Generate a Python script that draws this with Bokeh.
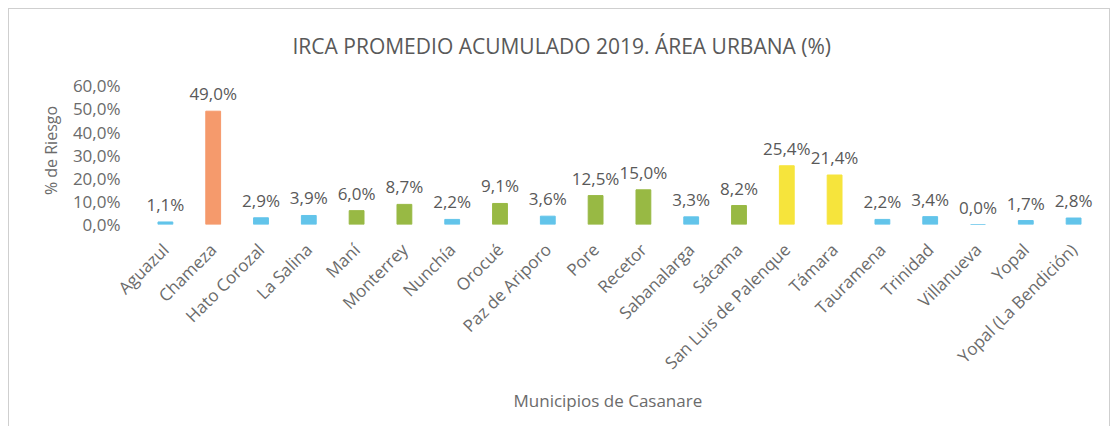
import math
from bokeh.plotting import figure
from bokeh.models import ColumnDataSource, FixedTicker, Title
from bokeh.core.properties import value
from bokeh.embed import file_html
from bokeh.resources import INLINE

municipios = ["Aguazul", "Chameza", "Hato Corozal", "La Salina", "Maní", "Monterrey",
              "Nunchía", "Orocué", "Paz de Ariporo", "Pore", "Recetor", "Sabanalarga",
              "Sácama", "San Luis de Palenque", "Támara", "Tauramena", "Trinidad",
              "Villanueva", "Yopal", "Yopal (La Bendición)"]
irca = [1.1, 49.0, 2.9, 3.9, 6.0, 8.7, 2.2, 9.1, 3.6, 12.5, 15.0, 3.3, 8.2,
        25.4, 21.4, 2.2, 3.4, 0.0, 1.7, 2.8]
riesgo = ["sin", "alto", "sin", "sin", "bajo", "bajo", "sin", "bajo", "sin", "bajo",
          "bajo", "sin", "bajo", "medio", "medio", "sin", "sin", "sin", "sin", "sin"]
y_ticks = [0, 10, 20, 30, 40, 50, 60]
y_tick_labels = ["0,0%", "10,0%", "20,0%", "30,0%", "40,0%", "50,0%", "60,0%"]

palette = {"sin": "#62c4ea", "bajo": "#98b944", "medio": "#f6e43c", "alto": "#f59a6c"}
FONT = "Open Sans"
GREY = "#6b6b6b"

labels = [f"{v:.1f}".replace(".", ",") + "%" for v in irca]
src = ColumnDataSource(dict(x=municipios, y=irca, lab=labels,
                            color=[palette[r] for r in riesgo]))

p = figure(x_range=municipios, y_range=(0, 64), width=1102, height=418,
           output_backend="svg", toolbar_location=None,
           min_border_left=132, min_border_right=14, min_border_top=67, min_border_bottom=203)
p.styles = {"border-left": "1px solid #cfcfcf", "border-top": "1px solid #cfcfcf",
            "border-right": "1px solid #cfcfcf", "margin-top": "8px", "margin-left": "8px"}
p.x_range.range_padding = 0

p.vbar(x="x", top="y", width=0.31, color="color", source=src)
p.text(x="x", y="y", text="lab", source=src, text_align="center", text_baseline="bottom",
       y_offset=-6, text_font=value(FONT), text_font_size="17px", text_color="#595959")

p.title.text = "IRCA PROMEDIO ACUMULADO 2019. ÁREA URBANA (%)"
p.title.align = "left"
p.title.offset = 151
p.title.text_font = FONT
p.title.text_font_size = "21px"
p.title.text_font_style = "normal"
p.title.text_color = "#595959"
p.title.standoff = 33

p.xgrid.grid_line_color = None
p.ygrid.grid_line_color = None
p.outline_line_color = None

p.yaxis.ticker = FixedTicker(ticks=y_ticks)
p.yaxis.major_label_overrides = dict(zip(y_ticks, y_tick_labels))
p.yaxis.axis_line_color = None
p.yaxis.major_tick_line_color = None
p.yaxis.minor_tick_line_color = None
p.yaxis.major_label_standoff = 15
p.yaxis.major_label_text_font = FONT
p.yaxis.major_label_text_font_size = "17px"
p.yaxis.major_label_text_color = GREY
p.yaxis.axis_label = "% de Riesgo"
p.yaxis.axis_label_standoff = 8
p.yaxis.axis_label_text_font = FONT
p.yaxis.axis_label_text_font_size = "16px"
p.yaxis.axis_label_text_font_style = "normal"
p.yaxis.axis_label_text_color = GREY

p.xaxis.axis_line_color = None
p.xaxis.major_tick_line_color = None
p.xaxis.major_label_orientation = math.pi / 4
p.xaxis.major_label_standoff = 16
p.xaxis.major_label_text_font = FONT
p.xaxis.major_label_text_font_size = "17px"
p.xaxis.major_label_text_color = GREY

xt = Title(text="Municipios de Casanare", align="left", offset=372, standoff=4,
           text_font=FONT, text_font_size="17px", text_font_style="normal", text_color=GREY)
p.add_layout(xt, "below")

open("out.html", "w").write(file_html(p, INLINE))
